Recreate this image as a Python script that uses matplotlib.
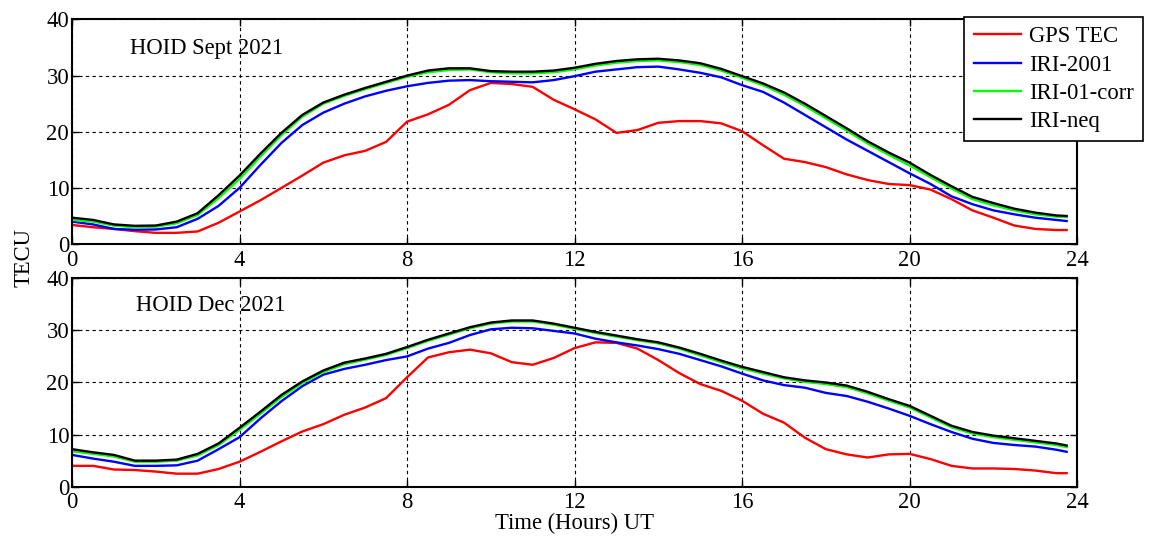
import matplotlib
matplotlib.use("Agg")
import matplotlib.pyplot as plt

plt.rcParams['font.family'] = ['Liberation Serif', 'DejaVu Serif']

hours = [0, 0.5, 1, 1.5, 2, 2.5, 3, 3.5, 4, 4.5, 5, 5.5, 6, 6.5, 7, 7.5, 8, 8.5, 9, 9.5,
         10, 10.5, 11, 11.5, 12, 12.5, 13, 13.5, 14, 14.5, 15, 15.5, 16, 16.5, 17, 17.5,
         18, 18.5, 19, 19.5, 20, 20.5, 21, 21.5, 22, 22.5, 23, 23.5, 23.75]

# September 2021
sep_gps = [3.4, 3.0, 2.7, 2.3, 2.0, 2.0, 2.25, 3.8, 5.8, 7.8, 10.0, 12.2, 14.5, 15.8, 16.6, 18.2,
           21.8, 23.1, 24.8, 27.4, 28.7, 28.5, 28.0, 25.7, 24.0, 22.2, 19.8, 20.3, 21.6, 21.9,
           21.9, 21.5, 20.1, 17.6, 15.2, 14.6, 13.7, 12.4, 11.4, 10.7, 10.5, 9.7, 8.0, 6.0, 4.7,
           3.3, 2.7, 2.5, 2.5]
sep_iri2001 = [4.0, 3.5, 2.7, 2.55, 2.6, 3.0, 4.5, 6.8, 10.0, 14.1, 18.0, 21.2, 23.4, 25.0, 26.3,
               27.3, 28.1, 28.7, 29.1, 29.2, 29.0, 28.9, 28.8, 29.2, 29.9, 30.7, 31.1, 31.5, 31.6,
               31.1, 30.5, 29.7, 28.3, 27.1, 25.2, 23.0, 20.8, 18.6, 16.6, 14.6, 12.6, 10.7, 8.5,
               7.1, 6.0, 5.3, 4.7, 4.3, 4.1]
sep_corr = [4.3, 4.0, 3.3, 3.0, 3.1, 3.7, 5.2, 8.2, 11.6, 15.6, 19.4, 22.7, 25.0, 26.4, 27.6, 28.7,
            29.8, 30.6, 31.0, 31.1, 30.6, 30.4, 30.4, 30.6, 31.1, 31.8, 32.3, 32.6, 32.7, 32.4,
            31.9, 30.9, 29.6, 28.3, 26.6, 24.6, 22.4, 20.2, 17.9, 15.9, 14.0, 11.9, 9.9, 8.0, 6.9,
            6.0, 5.3, 4.9, 4.8]
sep_neq = [4.7, 4.3, 3.5, 3.25, 3.3, 4.0, 5.5, 8.7, 12.2, 16.1, 19.8, 23.0, 25.2, 26.6, 27.8, 28.9,
           30.0, 30.9, 31.3, 31.3, 30.8, 30.7, 30.7, 30.9, 31.4, 32.1, 32.6, 32.9, 33.0, 32.7,
           32.2, 31.2, 29.9, 28.6, 27.0, 25.0, 22.8, 20.6, 18.3, 16.3, 14.5, 12.3, 10.3, 8.4, 7.3,
           6.3, 5.6, 5.1, 5.0]

# December 2021
dec_gps = [4.0, 4.0, 3.3, 3.2, 2.9, 2.5, 2.5, 3.4, 4.8, 6.7, 8.7, 10.6, 12.0, 13.8, 15.2, 17.0,
           21.0, 24.8, 25.8, 26.3, 25.6, 23.9, 23.4, 24.7, 26.6, 27.7, 27.6, 26.5, 24.3, 21.8,
           19.7, 18.4, 16.5, 14.0, 12.3, 9.4, 7.2, 6.2, 5.6, 6.2, 6.3, 5.3, 4.0, 3.5, 3.5, 3.4,
           3.1, 2.6, 2.6]
dec_iri2001 = [6.1, 5.4, 4.8, 4.0, 4.0, 4.1, 5.0, 7.2, 9.5, 13.1, 16.4, 19.3, 21.5, 22.6, 23.4,
               24.3, 25.0, 26.5, 27.6, 29.1, 30.2, 30.5, 30.4, 29.9, 29.4, 28.4, 27.7, 27.1, 26.4,
               25.5, 24.3, 23.1, 21.7, 20.4, 19.5, 19.0, 18.0, 17.4, 16.3, 15.0, 13.6, 12.0, 10.5,
               9.2, 8.4, 8.0, 7.7, 7.1, 6.7]
dec_corr = [6.8, 6.3, 5.8, 4.8, 4.8, 5.0, 6.0, 8.0, 10.9, 14.0, 17.2, 19.9, 22.0, 23.5, 24.4, 25.3,
            26.6, 28.0, 29.2, 30.4, 31.3, 31.7, 31.7, 31.1, 30.3, 29.5, 28.8, 28.1, 27.5, 26.5,
            25.2, 23.9, 22.7, 21.7, 20.8, 20.1, 19.7, 19.1, 17.9, 16.5, 15.2, 13.3, 11.4, 10.2,
            9.5, 9.0, 8.5, 8.0, 7.6]
dec_neq = [7.2, 6.6, 6.1, 5.0, 5.0, 5.2, 6.3, 8.3, 11.3, 14.4, 17.6, 20.2, 22.3, 23.8, 24.6, 25.5,
           26.8, 28.2, 29.4, 30.6, 31.5, 31.9, 31.9, 31.3, 30.5, 29.7, 29.0, 28.3, 27.7, 26.7,
           25.5, 24.2, 23.0, 22.0, 21.0, 20.4, 20.0, 19.4, 18.2, 16.8, 15.5, 13.6, 11.7, 10.5,
           9.8, 9.3, 8.8, 8.3, 7.9]

series_names = ['GPS TEC', 'IRI-2001', 'IRI-01-corr', 'IRI-neq']
series_colors = ['#ff0000', '#0000ff', '#00ff00', '#000000']
panel_titles = ['HOID Sept 2021', 'HOID Dec 2021']
xticks = [0, 4, 8, 12, 16, 20, 24]
yticks = [0, 10, 20, 30, 40]

fig = plt.figure(figsize=(11.52, 5.4), dpi=100)
ax1 = fig.add_axes([0.0625, 0.548, 0.8725, 0.416])
ax2 = fig.add_axes([0.0625, 0.0987, 0.8725, 0.386])

panels = [(ax1, [sep_gps, sep_iri2001, sep_corr, sep_neq], panel_titles[0], (1.38, 34.9)),
          (ax2, [dec_gps, dec_iri2001, dec_corr, dec_neq], panel_titles[1], (1.53, 34.7))]

fs = 16.3
handles = []
for ax, data, title, pos in panels:
    for vals, name, col in zip(data, series_names, series_colors):
        ln, = ax.plot(hours, vals, color=col, lw=1.7, label=name)
        if ax is ax1:
            handles.append(ln)
    ax.set_xlim(0, 24)
    ax.set_ylim(0, 40)
    ax.set_xticks(xticks)
    ax.set_yticks(yticks)
    ax.grid(True, color='black', linestyle=(0, (3, 3)), linewidth=0.8)
    ax.tick_params(direction='in', top=True, right=True, labelsize=fs, length=5, width=1)
    ax.tick_params(axis='y', pad=2)
    ax.tick_params(axis='x', pad=4)
    for s in ax.spines.values():
        s.set_linewidth(1.5)
    ax.text(pos[0], pos[1], title, fontsize=fs, va='center', ha='left')

ax2.set_xlabel('Time (Hours) UT', fontsize=fs, labelpad=0)
fig.text(0.021, 0.524, 'TECU', rotation=90, fontsize=fs, va='center', ha='center')

leg = fig.legend(handles=handles, loc='upper right', bbox_to_anchor=(0.992, 0.968),
                 fontsize=fs, frameon=True, fancybox=False, edgecolor='black',
                 framealpha=1, handlelength=2.1, borderpad=0.4, labelspacing=0.32,
                 handletextpad=0.35, borderaxespad=0)
leg.get_frame().set_linewidth(1.2)

fig.savefig('out.png', dpi=100)
